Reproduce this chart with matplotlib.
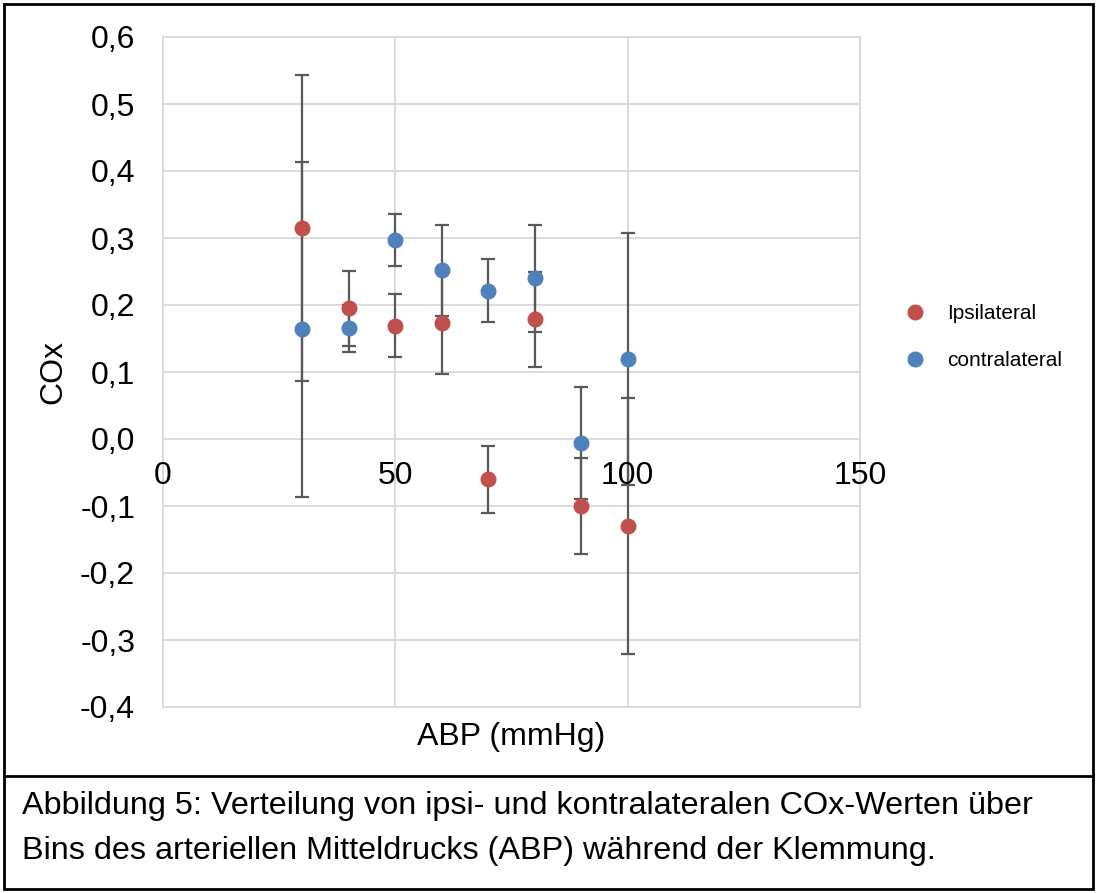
import matplotlib.pyplot as plt
from matplotlib.lines import Line2D
from matplotlib.patches import Rectangle
from matplotlib.transforms import offset_copy

plt.rcParams['font.family'] = ['Liberation Sans', 'DejaVu Sans']

abp = [30, 40, 50, 60, 70, 80, 90, 100]
ipsi = [0.315, 0.195, 0.169, 0.173, -0.060, 0.179, -0.100, -0.130]
ipsi_err = [0.229, 0.056, 0.047, 0.076, 0.050, 0.071, 0.072, 0.191]
contra = [0.164, 0.165, 0.297, 0.252, 0.221, 0.240, -0.006, 0.119]
contra_err = [0.250, 0.035, 0.039, 0.068, 0.047, 0.080, 0.083, 0.188]
x_ticks = [0, 50, 100, 150]
y_ticks = [-0.4, -0.3, -0.2, -0.1, 0.0, 0.1, 0.2, 0.3, 0.4, 0.5, 0.6]

red = '#C0504D'
blue = '#4F81BD'
bar_col = '#595959'

fig = plt.figure(figsize=(10.97, 8.93), dpi=100)
ax = fig.add_axes([163 / 1097, 186 / 893, 697 / 1097, 670 / 893])

ax.errorbar(abp, ipsi, yerr=ipsi_err, fmt='none', ecolor=bar_col,
            elinewidth=1.6, capsize=5, capthick=1.6, zorder=2)
ax.errorbar(abp, contra, yerr=contra_err, fmt='none', ecolor=bar_col,
            elinewidth=1.6, capsize=5, capthick=1.6, zorder=2)
ax.plot(abp, ipsi, 'o', color=red, markersize=10.5, zorder=3)
ax.plot(abp, contra, 'o', color=blue, markersize=10.5, zorder=3)

ax.set_xlim(0, 150)
ax.set_ylim(-0.4, 0.6)
ax.set_xticks(x_ticks)
ax.set_yticks(y_ticks)
ax.set_yticklabels([('%.1f' % v).replace('.', ',') for v in y_ticks])
ax.grid(True, color='#D9D9D9', linewidth=1.3)
ax.set_axisbelow(True)
for s in ['left', 'right', 'top', 'bottom']:
    ax.spines[s].set_color('#D9D9D9')
    ax.spines[s].set_linewidth(1.3)
ax.tick_params(axis='x', length=0, labelbottom=False)
ax.tick_params(axis='y', length=0, pad=20, labelsize=23)

# x labels sit on the zero line (Excel style), drawn above the marks
lab_tr = offset_copy(ax.transData, fig=fig, x=0, y=-22, units='dots')
for xt in x_ticks:
    ax.text(xt, 0, str(xt), transform=lab_tr, fontsize=23, ha='center',
            va='top', zorder=6, clip_on=False)

fig.text(511 / 1097, 1 - 737 / 893, 'ABP (mmHg)', fontsize=23,
         ha='center', va='center')
fig.text(53 / 1097, 1 - 372 / 893, 'COx', fontsize=23, rotation=90,
         ha='center', va='center')

handles = [Line2D([], [], marker='o', linestyle='none', color=red, markersize=10.5),
           Line2D([], [], marker='o', linestyle='none', color=blue, markersize=10.5)]
fig.legend(handles, ['Ipsilateral', 'contralateral'], loc='center left',
           bbox_to_anchor=(875 / 1097, 1 - 337 / 893), frameon=False,
           fontsize=15, labelspacing=1.35, handletextpad=0.55)

# frame and caption
fig.patches.append(Rectangle((4 / 1097, 4 / 893), 1089 / 1097, 885 / 893,
                             transform=fig.transFigure, fill=False,
                             edgecolor='black', linewidth=2))
fig.add_artist(Line2D([4 / 1097, 1093 / 1097], [1 - 776 / 893, 1 - 776 / 893],
                      transform=fig.transFigure, color='black', linewidth=2))
fig.text(22 / 1097, 1 - 806 / 893,
         'Abbildung 5: Verteilung von ipsi- und kontralateralen COx-Werten über',
         fontsize=23.3, ha='left', va='center')
fig.text(22 / 1097, 1 - 851 / 893,
         'Bins des arteriellen Mitteldrucks (ABP) während der Klemmung.',
         fontsize=23.3, ha='left', va='center')

fig.savefig('out.png', dpi=100)
